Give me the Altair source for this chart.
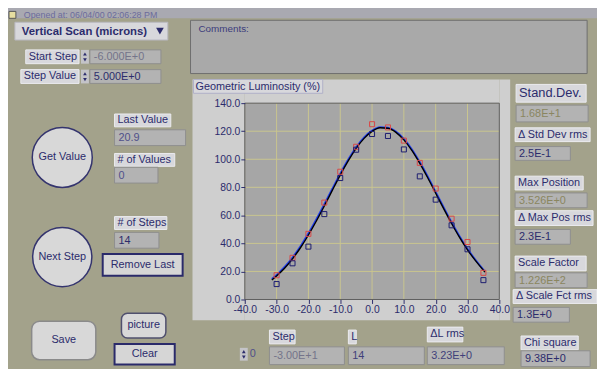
import altair as alt
import pandas as pd

# ---------------- data ----------------
steps = [-30, -25, -20, -15, -10, -5, 0, 5, 10, 15, 20, 25, 30, 35]
lum_red = [17.3, 29.7, 46.8, 69.1, 91.1, 108.9, 125.0, 122.7, 113.3, 97.4, 79.1, 57.6, 41.0, 19.0]
lum_blue = [11.0, 25.8, 37.7, 60.9, 86.6, 106.8, 118.0, 116.6, 107.0, 87.8, 71.2, 52.9, 35.8, 13.8]
fit_x = [-31.5, -30, -27.5, -25, -22.5, -20, -17.5, -15, -12.5, -10, -7.5, -5, -2.5, 0,
         2.5, 5, 7.5, 10, 12.5, 15, 17.5, 20, 22.5, 25, 27.5, 30, 32.5, 35.5]
fit_y = [13.9, 16.8, 22.3, 29.0, 36.9, 46.0, 56.0, 66.7, 77.8, 88.7, 98.8, 107.8, 114.9, 119.9,
         122.5, 122.1, 119.2, 113.8, 106.3, 97.1, 86.8, 75.8, 64.8, 54.2, 44.3, 35.4, 27.7, 19.5]
blue_y = [14.6, 17.6, 23.2, 30.0, 38.0, 47.2, 57.3, 68.0, 79.0, 89.8, 99.8, 108.6, 115.6, 120.5,
          122.9, 122.5, 119.8, 114.5, 107.2, 98.0, 87.8, 76.8, 65.8, 55.1, 45.1, 36.1, 28.3, 19.9]
x_ticks = [-40, -30, -20, -10, 0, 10, 20, 30, 40]
y_ticks = [0, 20, 40, 60, 80, 100, 120, 140]
x_grid = [-30, -20, -10, 0, 10, 20, 30]
y_grid = [20, 40, 60, 80, 100, 120]

# ---------------- style ----------------
FONT = "Liberation Sans"
BG = "#a3a28b"
PANEL = "#cfcfcf"
PLOT = "#a6a6a6"
LABEL_BG = "#d8d8dc"
VALUE_BG = "#b3b3b3"
NAVY = "#2c2c6c"
KHAKI = "#8a8660"
GREYTXT = "#74748a"
GRID = "#c9c58e"

OX, OY = 248, 102  # plot origin on the page
ONE = pd.DataFrame({"k": [0]})
layers = []


def box(x0, y0, x1, y1, fill, stroke=None, sw=1.0, r=0):
    kw = dict(fill=fill, cornerRadius=r)
    if stroke:
        kw.update(stroke=stroke, strokeWidth=sw)
    else:
        kw.update(strokeWidth=0)
    layers.append(alt.Chart(ONE).mark_rect(**kw).encode(
        x=alt.value(x0 - OX), x2=alt.value(x1 - OX),
        y=alt.value(y0 - OY), y2=alt.value(y1 - OY)))


def txt(s, x, y, size=11, color=NAVY, align="left", bold=False):
    kw = dict(align=align, baseline="middle", font=FONT, fontSize=size, color=color)
    if bold:
        kw["fontWeight"] = "bold"
    layers.append(alt.Chart(ONE).mark_text(**kw).encode(
        x=alt.value(x - OX), y=alt.value(y - OY), text=alt.value(s)))


def sym(shape, x, y, size, fill, stroke=None, sw=1.0):
    kw = dict(shape=shape, filled=True, size=size, fill=fill, opacity=1)
    if stroke:
        kw.update(stroke=stroke, strokeWidth=sw)
    layers.append(alt.Chart(ONE).mark_point(**kw).encode(
        x=alt.value(x - OX), y=alt.value(y - OY)))


def label(s, x0, y0, x1, y1, size=11):
    box(x0, y0, x1, y1, LABEL_BG, "#ececf0")
    txt(s, x0 + 3, (y0 + y1) / 2, size=size)


def value(s, x0, y0, x1, y1, color=NAVY):
    box(x0, y0, x1, y1, VALUE_BG, "#8e8e8e")
    txt(s, x0 + 4, (y0 + y1) / 2 + 0.5, color=color)


def spinner(x, y0, y1):
    box(x - 4, y0, x + 4, y1, "#c4c4c8")
    sym("triangle-up", x, y0 + (y1 - y0) * 0.3, 14, NAVY)
    sym("triangle-down", x, y0 + (y1 - y0) * 0.72, 14, NAVY)


# ---------------- GUI decoration ----------------
box(0, 0, 605, 16, "#a9a9b1")
box(9, 9, 16, 16, "#e6dea0", "#555555")
txt("Opened at: 06/04/00 02:06:28 PM", 24, 12.5, size=9, color="#6c6c9c")

box(15, 20, 170, 38, "#d8d8dc", "#b8b8c0")
txt("Vertical Scan (microns)", 22, 29.5, size=11.5, bold=True)
sym("triangle-down", 162, 29, 60, NAVY)

label("Start Step", 26, 48, 80, 62)
spinner(86, 48, 62)
value("-6.000E+0", 91, 48, 163, 62, color=GREYTXT)
label("Step Value", 21, 68, 80, 82)
spinner(86, 68, 82)
value("5.000E+0", 91, 68, 163, 82)

box(193, 18, 595, 72, "#a9a9a9", "#6e6e6e")
txt("Comments:", 201, 27, size=10, color="#3c3c7c")

# chart panel frame (around the plot area)
box(195, 78, 248, 322, PANEL)
box(506, 78, 517, 322, PANEL)
box(248, 78, 506, 102, PANEL)
box(248, 301, 506, 322, PANEL)
box(196, 78, 327, 92, LABEL_BG, "#b0b0c8")
txt("Geometric Luminosity (%)", 198, 85.5, size=11)

# left column
sym("circle", 63, 157, 3700, "#d8d8d8", "#34346e", 1.5)
txt("Get Value", 63, 157, align="center")
label("Last Value", 116, 113, 173, 126)
value("20.9", 116, 129, 188, 145, color="#50508a")
label("# of Values", 116, 153, 177, 166)
value("0", 116, 167, 160, 183, color="#50508a")
label("# of Steps", 116, 217, 169, 230)
value("14", 116, 233, 161, 249)
sym("circle", 63, 258, 3600, "#d8d8d8", "#34346e", 1.5)
txt("Next Step", 63, 258, align="center")
box(104, 255, 185, 277, "#d6d6d6", "#2a2a6a", 2)
txt("Remove Last", 144.5, 266, align="center")
box(32, 323, 97, 362, "#d8d8d8", "#8a8a8a", 1.5, r=8)
txt("Save", 64.5, 342.5, align="center")
box(123, 315, 168, 340, "#d8d8d8", "#50506e", 1.5, r=6)
txt("picture", 145.5, 327, align="center")
box(116, 346, 177, 367, "#d6d6d6", "#2a2a6a", 2)
txt("Clear", 146.5, 356.5, align="center")

# right column
label("Stand.Dev.", 523, 83, 594, 101, size=13)
value("1.68E+1", 523, 104, 596, 121, color=KHAKI)
label("\u0394 Std Dev rms", 522, 127, 598, 141)
value("2.5E-1", 522, 146, 578, 160)
label("Max Position", 522, 176, 591, 190)
value("3.526E+0", 522, 193, 595, 208, color=KHAKI)
label("\u0394 Max Pos rms", 522, 211, 601, 226)
value("2.3E-1", 522, 230, 578, 245)
label("Scale Factor", 522, 257, 594, 272)
value("1.226E+2", 522, 274, 595, 289, color=KHAKI)
label("\u0394 Scale Fct rms", 520, 291, 605, 305)
value("1.3E+0", 520, 309, 577, 324)
label("Chi square", 528, 338, 586, 352)
value("9.38E+0", 528, 353, 598, 369)

# bottom row
spinner(247, 350, 363)
txt("0", 253, 356.5, color="#50508a")
label("Step", 273, 332, 299, 346)
value("-3.00E+1", 273, 349, 349, 367, color=GREYTXT)
label("L", 353, 332, 361, 346)
value("14", 353, 349, 430, 367, color="#40407a")
label("\u0394L rms", 433, 329, 469, 344)
value("3.23E+0", 433, 349, 511, 367, color="#40407a")

# ---------------- plot ----------------
lab_expr = "replace(format(datum.value, '.1f'), '\u2212', '-')"
axis_common = dict(grid=False, domain=False, ticks=True, tickSize=4, tickColor=NAVY,
                   labelColor=NAVY, labelFont=FONT, labelFontSize=10.5, labelPadding=1,
                   title=None, zindex=1, labelFlush=False, labelOverlap=False,
                   labelExpr=lab_expr)
X = alt.X("x:Q", scale=alt.Scale(domain=[-40, 40], nice=False, zero=False),
          axis=alt.Axis(values=x_ticks, **axis_common))
Y = alt.Y("y:Q", scale=alt.Scale(domain=[0, 140], nice=False, zero=False),
          axis=alt.Axis(values=y_ticks, **axis_common))

gx = pd.DataFrame({"x": x_grid})
gy = pd.DataFrame({"y": y_grid})
layers.append(alt.Chart(gx).mark_rule(color=GRID, strokeWidth=1).encode(x=X))
layers.append(alt.Chart(gy).mark_rule(color=GRID, strokeWidth=1).encode(y=Y))

# plot border
layers.append(alt.Chart(ONE).mark_rect(fill="transparent", stroke="#5e5e5e", strokeWidth=1).encode(
    x=alt.value(0), x2=alt.value(258), y=alt.value(0), y2=alt.value(199)))

fit = pd.DataFrame({"x": fit_x, "y": fit_y})
bfit = pd.DataFrame({"x": fit_x, "y": blue_y})
red = pd.DataFrame({"x": steps, "y": lum_red})
blue = pd.DataFrame({"x": steps, "y": lum_blue})

layers.append(alt.Chart(bfit).mark_line(color="#1f3cf0", strokeWidth=1.8, interpolate="monotone").encode(x=X, y=Y))
layers.append(alt.Chart(fit).mark_line(color="#000000", strokeWidth=1.4, interpolate="monotone").encode(x=X, y=Y))
layers.append(alt.Chart(red).mark_point(shape="square", filled=False, size=26, strokeWidth=1,
                                         color="#d84848", opacity=1).encode(x=X, y=Y))
layers.append(alt.Chart(blue).mark_point(shape="square", filled=False, size=26, strokeWidth=1,
                                          color="#1c1c70", opacity=1).encode(x=X, y=Y))

chart = alt.layer(*layers).properties(
    width=258, height=199,
    padding={"left": 240, "top": 94, "right": 99, "bottom": 68},
    autosize=alt.AutoSizeParams(type="none"),
    background=BG,
).configure_view(fill=PLOT, stroke="transparent")

chart.save("out.html", embed_options={"renderer": "svg", "actions": False})
